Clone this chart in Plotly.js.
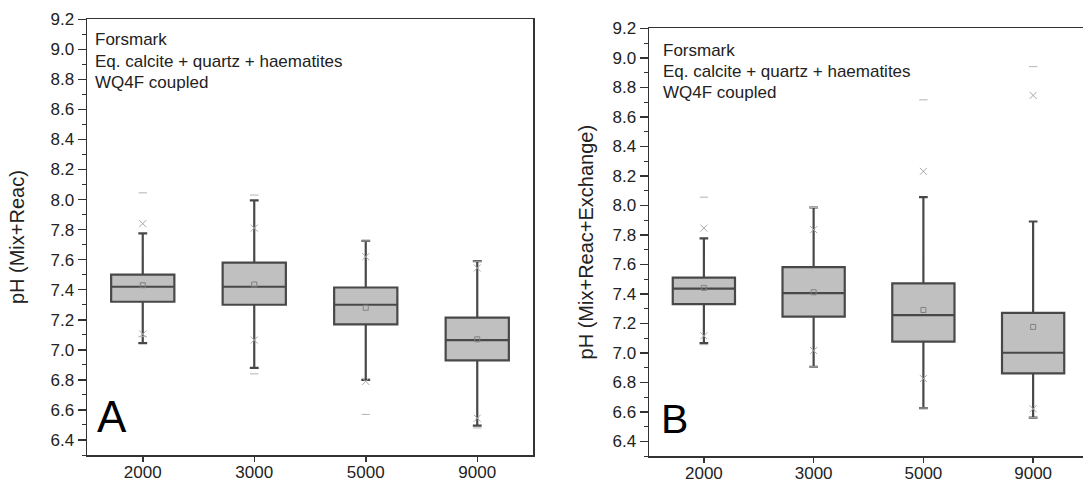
<!DOCTYPE html>
<html>
<head>
<meta charset="utf-8">
<script src="https://cdn.plot.ly/plotly-3.0.1.min.js"></script>
<style>
html, body { margin:0; padding:0; overflow:hidden; background:#fff; }
#chart { width:1090px; height:483px; }
</style>
</head>
<body>
<div id="chart"></div>
<script>
// Categories (distance / time labels)
const categories = ['2000', '3000', '5000', '9000'];

// Panel A: pH (Mix+Reac)
const q1A    = [7.32, 7.30, 7.17, 6.93];
const medA   = [7.42, 7.42, 7.30, 7.065];
const q3A    = [7.50, 7.58, 7.415, 7.215];
const lowA   = [7.045, 6.88, 6.80, 6.495];
const highA  = [7.775, 7.995, 7.725, 7.59];
const meanA  = [7.43, 7.435, 7.28, 7.07];
const p1A    = [7.105, 7.065, 6.79, 6.545];
const p99A   = [7.84, 7.81, 7.62, 7.545];
const minA   = [7.09, 6.84, 6.57, 6.48];
const maxA   = [8.045, 8.03, 7.725, 7.59];

// Panel B: pH (Mix+Reac+Exchange)
const q1B    = [7.33, 7.245, 7.075, 6.86];
const medB   = [7.435, 7.405, 7.255, 7.0];
const q3B    = [7.51, 7.58, 7.47, 7.27];
const lowB   = [7.065, 6.905, 6.625, 6.56];
const highB  = [7.775, 7.985, 8.055, 7.89];
const meanB  = [7.44, 7.41, 7.29, 7.175];
const p1B    = [7.115, 7.015, 6.825, 6.62];
const p99B   = [7.845, 7.835, 8.23, 8.745];
const minB   = [7.055, 6.905, 6.625, 6.56];
const maxB   = [8.055, 7.985, 8.715, 8.94];

const infoLines = ['Forsmark', 'Eq. calcite + quartz + haematites', 'WQ4F coupled'];
const panelLetters = ['A', 'B'];
const yTitles = ['pH (Mix+Reac)', 'pH (Mix+Reac+Exchange)'];

const FONT = 'Liberation Sans, Arial, sans-serif';
const BOXLINE = '#484848';
const BOXFILL = '#c0c0c0';
const AXIS = '#333333';

function panelTraces(xa, ya, q1, med, q3, low, high, mean, p1, p99, mn, mx) {
  return [
    { type:'box', x:categories, q1:q1, median:med, q3:q3, lowerfence:low, upperfence:high,
      boxpoints:false, fillcolor:BOXFILL, line:{color:BOXLINE, width:2.2}, whiskerwidth:0.14,
      xaxis:xa, yaxis:ya, hoverinfo:'skip', showlegend:false },
    { type:'scatter', mode:'markers', x:categories, y:mean, xaxis:xa, yaxis:ya,
      marker:{symbol:'square-open', size:5, color:'#808080', line:{width:1, color:'#808080'}},
      hoverinfo:'skip', showlegend:false },
    { type:'scatter', mode:'markers', x:categories.concat(categories), y:p1.concat(p99), xaxis:xa, yaxis:ya,
      marker:{symbol:'x-thin-open', size:7, color:'#a8a8a8', line:{width:1, color:'#a8a8a8'}},
      hoverinfo:'skip', showlegend:false },
    { type:'scatter', mode:'markers', x:categories.concat(categories), y:mn.concat(mx), xaxis:xa, yaxis:ya,
      marker:{symbol:'line-ew-open', size:6, color:'#b4b4b4', line:{width:1, color:'#b4b4b4'}},
      hoverinfo:'skip', showlegend:false }
  ];
}

const data = []
  .concat(panelTraces('x', 'y', q1A, medA, q3A, lowA, highA, meanA, p1A, p99A, minA, maxA))
  .concat(panelTraces('x2', 'y2', q1B, medB, q3B, lowB, highB, meanB, p1B, p99B, minB, maxB));

const W = 1090, H = 483;
const domAx = [87/W, 533/W], domBx = [649/W, 1088/W];
const domAy = [1 - 455/H, 1 - 19.3/H], domBy = [1 - 456/H, 1 - 28.3/H];
const YR = [6.3, 9.2];

function xMain(dom, anchor) {
  return { domain:dom, anchor:anchor, type:'category', range:[-0.5, 3.5],
    showline:true, mirror:true, linecolor:AXIS, linewidth:1.5,
    ticks:'outside', ticklen:5, tickwidth:1.5, tickcolor:AXIS, ticklabelstandoff:-4,
    tickfont:{family:FONT, size:17, color:'#222'}, showgrid:false, zeroline:false, fixedrange:true };
}
function yMain(dom, anchor, title, standoff) {
  return { domain:dom, anchor:anchor, range:YR, tick0:6.4, dtick:0.2, tickformat:'.1f',
    showline:true, mirror:true, linecolor:AXIS, linewidth:1.5,
    ticks:'outside', ticklen:8, tickwidth:1.5, tickcolor:AXIS,
    minor:{ticks:'outside', ticklen:4, tickwidth:1, tickcolor:AXIS, dtick:0.1, tick0:6.3},
    tickfont:{family:FONT, size:17, color:'#222'}, showgrid:false, zeroline:false, fixedrange:true,
    title:{text:title, font:{family:FONT, size:20, color:'#222'}, standoff:standoff} };
}
function xTop(over, anchor) {
  return { overlaying:over, anchor:anchor, side:'top', range:[-0.5, 3.5], tickvals:[0,1,2,3],
    showticklabels:false, ticks:'inside', ticklen:6, tickwidth:1.5, tickcolor:AXIS,
    showline:false, showgrid:false, zeroline:false, fixedrange:true };
}
function yRight(over, anchor) {
  return { overlaying:over, anchor:anchor, side:'right', range:YR, tick0:6.4, dtick:0.2,
    showticklabels:false, ticks:'inside', ticklen:6, tickwidth:1.5, tickcolor:AXIS,
    minor:{ticks:'inside', ticklen:3, tickwidth:1, tickcolor:AXIS, dtick:0.1, tick0:6.3},
    showline:false, showgrid:false, zeroline:false, fixedrange:true };
}

const annotations = [];
const infoA = [0.9525, 0.902, 0.854], infoB = [0.947, 0.898, 0.849];
infoLines.forEach((t, i) => {
  annotations.push({ xref:'x domain', yref:'y domain', x:0.0135, y:infoA[i], text:t, showarrow:false,
    xanchor:'left', yanchor:'middle', font:{family:FONT, size:17, color:'#222'} });
  annotations.push({ xref:'x2 domain', yref:'y2 domain', x:0.027, y:infoB[i], text:t, showarrow:false,
    xanchor:'left', yanchor:'middle', font:{family:FONT, size:17, color:'#222'} });
});
annotations.push({ xref:'x domain', yref:'y domain', x:0.018, y:0.028, text:panelLetters[0], showarrow:false,
  xanchor:'left', yanchor:'bottom', font:{family:FONT, size:44, color:'#000'} });
annotations.push({ xref:'x2 domain', yref:'y2 domain', x:0.022, y:0.029, text:panelLetters[1], showarrow:false,
  xanchor:'left', yanchor:'bottom', font:{family:FONT, size:41, color:'#000'} });

const layout = {
  width:W, height:H, margin:{l:0, r:0, t:0, b:0},
  paper_bgcolor:'#fff', plot_bgcolor:'#fff', showlegend:false, boxgap:0.19,
  font:{family:FONT, color:'#222'},
  xaxis: xMain(domAx, 'y'), yaxis: yMain(domAy, 'x', yTitles[0], 20),
  xaxis2: xMain(domBx, 'y2'), yaxis2: yMain(domBy, 'x2', yTitles[1], 13),
  xaxis3: xTop('x', 'y'), yaxis3: yRight('y', 'x'),
  xaxis4: xTop('x2', 'y2'), yaxis4: yRight('y2', 'x2'),
  annotations: annotations
};

Plotly.newPlot('chart', data, layout, {staticPlot:true, displayModeBar:false});
</script>
</body>
</html>
